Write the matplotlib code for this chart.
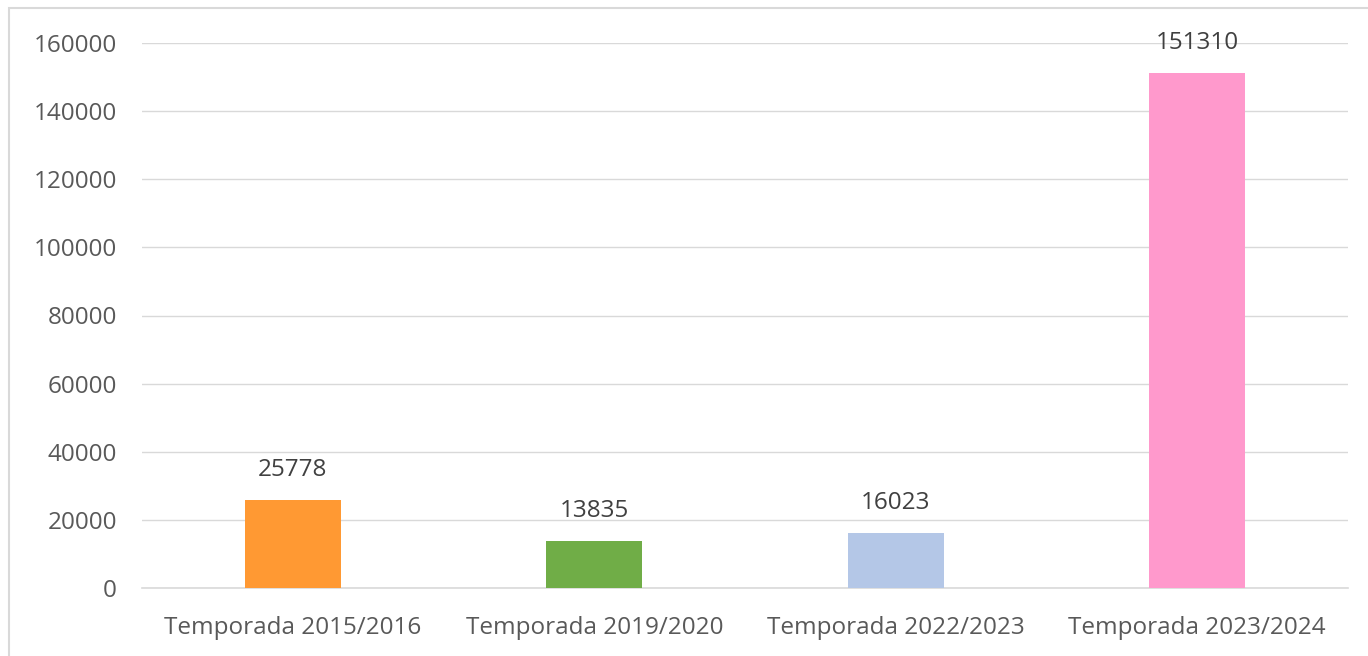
import matplotlib
matplotlib.use("Agg")
import matplotlib.pyplot as plt
from matplotlib.patches import Rectangle

# ── 데이터 ──
categories = ["Temporada 2015/2016", "Temporada 2019/2020",
              "Temporada 2022/2023", "Temporada 2023/2024"]
values = [25778, 13835, 16023, 151310]
bar_colors = ["#FF9933", "#70AD47", "#B4C7E7", "#FF99CC"]
yticks = [0, 20000, 40000, 60000, 80000, 100000, 120000, 140000, 160000]

plt.rcParams["font.family"] = ["Open Sans", "DejaVu Sans"]

W, H = 1368, 656
fig = plt.figure(figsize=(W / 100, H / 100), dpi=100, facecolor="white")

# 차트 테두리 (위/왼쪽만 보임)
fig.patches.append(Rectangle((9 / W, -0.1), 1.2, 1 - 8 / H + 0.1,
                             transform=fig.transFigure, fill=False,
                             edgecolor="#D9D9D9", linewidth=1.5))

ax = fig.add_axes([142 / W, 1 - 588 / H, (1348 - 142) / W, (588 - 43) / H])
x = range(len(categories))
ax.bar(x, values, width=0.32, color=bar_colors, zorder=3)

for xi, v in zip(x, values):
    ax.annotate(f"{v}", (xi, v), xytext=(0, 13), textcoords="offset points",
                ha="center", va="bottom", fontsize=17.5, color="#404040")

ax.set_xlim(-0.5, len(categories) - 0.5)
ax.set_ylim(0, 160000)
ax.set_yticks(yticks)
ax.set_yticklabels([str(t) for t in yticks])
ax.set_xticks(list(x))
ax.set_xticklabels(categories)
ax.tick_params(axis="both", length=0, labelsize=17.5, labelcolor="#595959")
ax.tick_params(axis="y", pad=18)
ax.tick_params(axis="x", pad=20)
ax.grid(axis="y", color="#D9D9D9", linewidth=1.0, zorder=0)
for s in ["top", "right", "left"]:
    ax.spines[s].set_visible(False)
ax.spines["bottom"].set_color("#D9D9D9")
ax.spines["bottom"].set_linewidth(1.2)

fig.savefig("out.png", dpi=100, facecolor="white")
